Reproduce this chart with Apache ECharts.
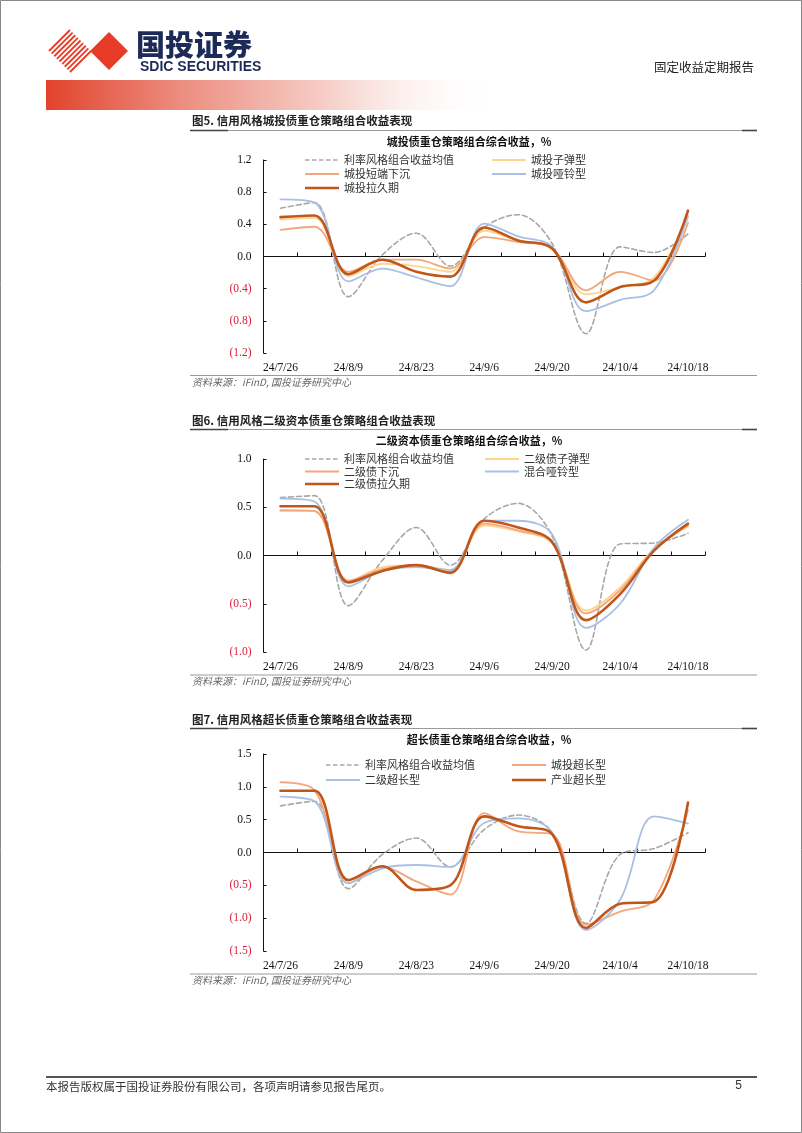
<!DOCTYPE html>
<html><head><meta charset="utf-8">
<script src="https://cdn.jsdelivr.net/npm/echarts@6/dist/echarts.min.js"></script>
<style>html,body{margin:0;padding:0;background:#fff}#main{width:802px;height:1133px}</style>
</head><body><div id="main"></div>
<script>
// ---------- data ----------
const categories = ['24/7/26','24/8/2','24/8/9','24/8/16','24/8/23','24/8/30','24/9/6','24/9/13','24/9/20','24/9/27','24/10/4','24/10/11','24/10/18'];

const yTicks1 = {min: -1.2, max: 1.2, interval: 0.4};
const yTicks2 = {min: -1.0, max: 1.0, interval: 0.5};
const yTicks3 = {min: -1.5, max: 1.5, interval: 0.5};

// Chart 1: 城投债
const rateAvg1        = [0.60, 0.67, -0.50, 0.02, 0.29, -0.12, 0.36, 0.52, 0.16, -0.96, 0.12, 0.05, 0.28];
const ctBullet        = [0.46, 0.48, -0.24, -0.09, -0.12, -0.19, 0.32, 0.20, 0.10, -0.47, -0.38, -0.26, 0.51];
const ctShortSink     = [0.33, 0.37, -0.19, -0.04, -0.04, -0.15, 0.24, 0.18, 0.10, -0.42, -0.19, -0.30, 0.42];
const ctBarbell       = [0.71, 0.67, -0.31, -0.15, -0.26, -0.37, 0.41, 0.25, 0.12, -0.68, -0.54, -0.42, 0.50];
const ctDuration      = [0.49, 0.51, -0.22, -0.04, -0.19, -0.25, 0.36, 0.20, 0.10, -0.57, -0.38, -0.30, 0.57];

// Chart 2: 二级资本债
const rateAvg2        = [0.60, 0.62, -0.52, -0.05, 0.29, -0.10, 0.38, 0.54, 0.20, -0.98, 0.12, 0.13, 0.23];
const tier2Bullet     = [0.46, 0.46, -0.27, -0.12, -0.10, -0.15, 0.31, 0.25, 0.13, -0.57, -0.33, 0.07, 0.30];
const tier2Sink       = [0.47, 0.46, -0.26, -0.14, -0.10, -0.16, 0.33, 0.26, 0.13, -0.60, -0.36, 0.06, 0.31];
const mixedBarbell    = [0.59, 0.56, -0.32, -0.16, -0.12, -0.15, 0.36, 0.36, 0.22, -0.75, -0.50, 0.08, 0.37];
const tier2Duration   = [0.51, 0.51, -0.28, -0.16, -0.10, -0.18, 0.36, 0.29, 0.14, -0.67, -0.40, 0.05, 0.33];

// Chart 3: 超长债
const rateAvg3        = [0.71, 0.78, -0.55, -0.03, 0.22, -0.22, 0.35, 0.57, 0.30, -1.08, -0.03, 0.06, 0.30];
const ctUltraLong     = [1.07, 0.95, -0.47, -0.22, -0.44, -0.64, 0.60, 0.32, 0.28, -1.10, -0.90, -0.72, 0.65];
const tier2UltraLong  = [0.85, 0.78, -0.47, -0.24, -0.19, -0.22, 0.45, 0.52, 0.30, -1.18, -0.72, 0.55, 0.44];
const indUltraLong    = [0.94, 0.94, -0.42, -0.21, -0.57, -0.50, 0.55, 0.40, 0.28, -1.15, -0.78, -0.75, 0.76];

// ---------- styling ----------
const SERIF = "'Liberation Serif','Times New Roman','Noto Sans CJK SC',serif";
const CJK = "'Noto Sans CJK SC','Liberation Serif',sans-serif";
const C_GRAY = '#A8A8A8', C_YEL = '#FDD58C', C_LOR = '#F4A67C', C_BLUE = '#A9C0E4', C_DARK = '#C0561A';

const grids = [
  {left: 263.5, top: 160, width: 441.5, height: 193},
  {left: 263.5, top: 459, width: 441.5, height: 193},
  {left: 263.5, top: 754, width: 441.5, height: 197}
];
const yCfg = [yTicks1, yTicks2, yTicks3];

const xAxes = [], yAxes = [];
grids.forEach((g, i) => {
  xAxes.push({
    type: 'category', gridIndex: i, data: categories, boundaryGap: true, position: 'bottom',
    axisLine: {show: false, onZero: false}, axisTick: {show: false},
    axisLabel: {interval: 1, margin: 9, fontFamily: SERIF, fontSize: 11.5, color: '#111'}
  });
  xAxes.push({
    type: 'category', gridIndex: i, data: categories, boundaryGap: true, position: 'bottom',
    axisLine: {show: true, onZero: true, lineStyle: {color: '#111', width: 1}},
    axisTick: {show: true, inside: true, length: 4, interval: 0, lineStyle: {color: '#111'}},
    axisLabel: {show: false}
  });
  yAxes.push({
    type: 'value', gridIndex: i, min: yCfg[i].min, max: yCfg[i].max, interval: yCfg[i].interval,
    splitLine: {show: false},
    axisLine: {show: true, lineStyle: {color: '#111', width: 1}},
    axisTick: {show: true, inside: true, length: 3, lineStyle: {color: '#111'}},
    axisLabel: {
      margin: 12, fontFamily: SERIF, fontSize: 11.5,
      formatter: v => v < -1e-9 ? '(' + Math.abs(v).toFixed(1) + ')' : Math.abs(v).toFixed(1),
      color: v => Number(v) < -1e-9 ? '#D9203A' : '#111'
    }
  });
});

function line(name, data, chartIdx, color, width, dashed) {
  return {
    type: 'line', name, data, xAxisIndex: chartIdx * 2, yAxisIndex: chartIdx,
    smooth: 0.35, symbol: 'none', showSymbol: false, silent: true,
    lineStyle: {color, width, type: dashed ? [5, 3] : 'solid', cap: 'round'},
    itemStyle: {color}
  };
}

const series = [
  line('利率风格组合收益均值', rateAvg1, 0, C_GRAY, 1.6, true),
  line('城投子弹型', ctBullet, 0, C_YEL, 1.8),
  line('城投短端下沉', ctShortSink, 0, C_LOR, 1.8),
  line('城投哑铃型', ctBarbell, 0, C_BLUE, 1.8),
  line('城投拉久期', ctDuration, 0, C_DARK, 2.6),

  line('利率风格组合收益均值', rateAvg2, 1, C_GRAY, 1.6, true),
  line('二级债子弹型', tier2Bullet, 1, C_YEL, 1.8),
  line('二级债下沉', tier2Sink, 1, C_LOR, 1.8),
  line('混合哑铃型', mixedBarbell, 1, C_BLUE, 1.8),
  line('二级债拉久期', tier2Duration, 1, C_DARK, 2.6),

  line('利率风格组合收益均值', rateAvg3, 2, C_GRAY, 1.6, true),
  line('城投超长型', ctUltraLong, 2, C_LOR, 1.8),
  line('二级超长型', tier2UltraLong, 2, C_BLUE, 1.8),
  line('产业超长型', indUltraLong, 2, C_DARK, 2.6)
];

// legend icons inside an invisible 34x12 frame (zero-area edges keep the frame size)
const FRAME = 'M0,0L0,12L0,0Z M34,0L34,12L34,0Z ';
const ICON_DASH  = 'path://' + FRAME + 'M0,5.2h4.5v1.6h-4.5z M7,5.2h4.5v1.6h-4.5z M14,5.2h4.5v1.6h-4.5z M21,5.2h4.5v1.6h-4.5z M28,5.2h4.5v1.6h-4.5z';
const ICON_THIN  = 'path://' + FRAME + 'M0,5.1h34v1.8h-34z';
const ICON_THICK = 'path://' + FRAME + 'M0,4.7h34v2.6h-34z';
function item(name) {
  let icon = ICON_THIN;
  if (name === '利率风格组合收益均值') icon = ICON_DASH;
  else if (['城投拉久期', '二级债拉久期', '产业超长型'].includes(name)) icon = ICON_THICK;
  return {name, icon};
}
function legend(names, left, top, gap) {
  return {
    data: names.map(item), left, top, orient: 'vertical', itemWidth: 34, itemHeight: 12, itemGap: gap,
    selectedMode: false, padding: 0,
    itemStyle: {borderWidth: 0},
    textStyle: {fontFamily: CJK, fontSize: 11, color: '#333', lineHeight: 12}
  };
}
const legends = [
  legend(['利率风格组合收益均值', '城投短端下沉', '城投拉久期'], 305, 154, 2),
  legend(['城投子弹型', '城投哑铃型'], 492, 154, 2),
  legend(['利率风格组合收益均值', '二级债下沉', '二级债拉久期'], 305, 453, 0.5),
  legend(['二级债子弹型', '混合哑铃型'], 485, 453, 0.5),
  legend(['利率风格组合收益均值', '二级超长型'], 326, 759, 3),
  legend(['城投超长型', '产业超长型'], 512, 759, 3)
];

// ---------- page chrome ----------
const G = [];
G.push({type: 'rect', shape: {x: 0.5, y: 0.5, width: 801, height: 1132}, style: {fill: 'none', stroke: '#888', lineWidth: 1}, silent: true});
for (let k = 0; k < 9; k++) {
  const t = k / 8, cx = 70, cy = 51, r = 21;
  const x1 = cx - r + r * t, y1 = cy + r * t;
  G.push({type: 'line', shape: {x1: x1, y1: y1, x2: x1 + r, y2: y1 - r}, style: {stroke: '#E63B26', lineWidth: 1.8}, silent: true});
}
G.push({type: 'polygon', shape: {points: [[109, 32], [128, 51], [109, 70], [90, 51]]}, style: {fill: '#E63B26'}, silent: true});
G.push({type: 'text', x: 136, y: 45, style: {text: '国投证券', font: "900 29px 'Noto Sans CJK SC'", fill: '#1D2A57', textVerticalAlign: 'middle'}, silent: true});
G.push({type: 'text', x: 140, y: 67.5, style: {text: 'SDIC SECURITIES', font: "bold 14px 'Liberation Sans Narrow','Liberation Sans',sans-serif", fill: '#1D2A57', textVerticalAlign: 'middle'}, silent: true});
G.push({type: 'text', x: 754, y: 67, style: {text: '固定收益定期报告', font: "12.5px 'Noto Sans CJK SC'", fill: '#222', textAlign: 'right', textVerticalAlign: 'middle'}, silent: true});
G.push({type: 'rect', shape: {x: 46, y: 80, width: 452, height: 30}, style: {fill: new echarts.graphic.LinearGradient(0, 0, 1, 0, [
  {offset: 0, color: '#E2432D'}, {offset: 0.3, color: '#EC8E80'}, {offset: 0.65, color: '#F7D4CE'}, {offset: 1, color: 'rgba(255,255,255,0)'}])}, silent: true});

const headings = [
  {t: '图5. 信用风格城投债重仓策略组合收益表现', y: 121, line: 130.5, ct: '城投债重仓策略组合综合收益，%', cy: 141.5, cx: 469, src: 375.5},
  {t: '图6. 信用风格二级资本债重仓策略组合收益表现', y: 420.5, line: 429.5, ct: '二级资本债重仓策略组合综合收益，%', cy: 441, cx: 469, src: 675},
  {t: '图7. 信用风格超长债重仓策略组合收益表现', y: 720, line: 728.5, ct: '超长债重仓策略组合综合收益，%', cy: 740, cx: 489, src: 974}
];
headings.forEach(h => {
  G.push({type: 'text', x: 192, y: h.y, style: {text: h.t, font: "bold 11.5px 'Noto Sans CJK SC'", fill: '#222', textVerticalAlign: 'middle'}, silent: true});
  G.push({type: 'line', shape: {x1: 190, y1: h.line, x2: 757, y2: h.line}, style: {stroke: '#9A9A9A', lineWidth: 1}, silent: true});
  G.push({type: 'line', shape: {x1: 190, y1: h.line, x2: 228, y2: h.line}, style: {stroke: '#444', lineWidth: 1.6}, silent: true});
  G.push({type: 'line', shape: {x1: 742, y1: h.line, x2: 757, y2: h.line}, style: {stroke: '#444', lineWidth: 1.6}, silent: true});
  G.push({type: 'text', x: h.cx, y: h.cy, style: {text: h.ct, font: "bold 11px 'Noto Sans CJK SC'", fill: '#111', textAlign: 'center', textVerticalAlign: 'middle'}, silent: true});
  G.push({type: 'line', shape: {x1: 190, y1: h.src, x2: 757, y2: h.src}, style: {stroke: '#9A9A9A', lineWidth: 1}, silent: true});
  G.push({type: 'text', x: 192, y: h.src + 6.5, style: {text: '资料来源：iFinD, 国投证券研究中心', font: "italic 10px 'Noto Sans CJK SC'", fill: '#666', textVerticalAlign: 'middle'}, silent: true});
});

G.push({type: 'line', shape: {x1: 46, y1: 1077, x2: 757, y2: 1077}, style: {stroke: '#555', lineWidth: 2}, silent: true});
G.push({type: 'text', x: 46, y: 1087, style: {text: '本报告版权属于国投证券股份有限公司，各项声明请参见报告尾页。', font: "11.5px 'Noto Sans CJK SC'", fill: '#333', textVerticalAlign: 'middle'}, silent: true});
G.push({type: 'text', x: 742, y: 1086, style: {text: '5', font: "12px 'Liberation Sans',sans-serif", fill: '#333', textAlign: 'right', textVerticalAlign: 'middle'}, silent: true});

const chart = echarts.init(document.getElementById('main'), null, {renderer: 'canvas'});
chart.setOption({
  backgroundColor: '#fff',
  animation: false,
  grid: grids,
  xAxis: xAxes,
  yAxis: yAxes,
  legend: legends,
  series: series,
  graphic: {elements: G}
});
</script>
</body></html>
